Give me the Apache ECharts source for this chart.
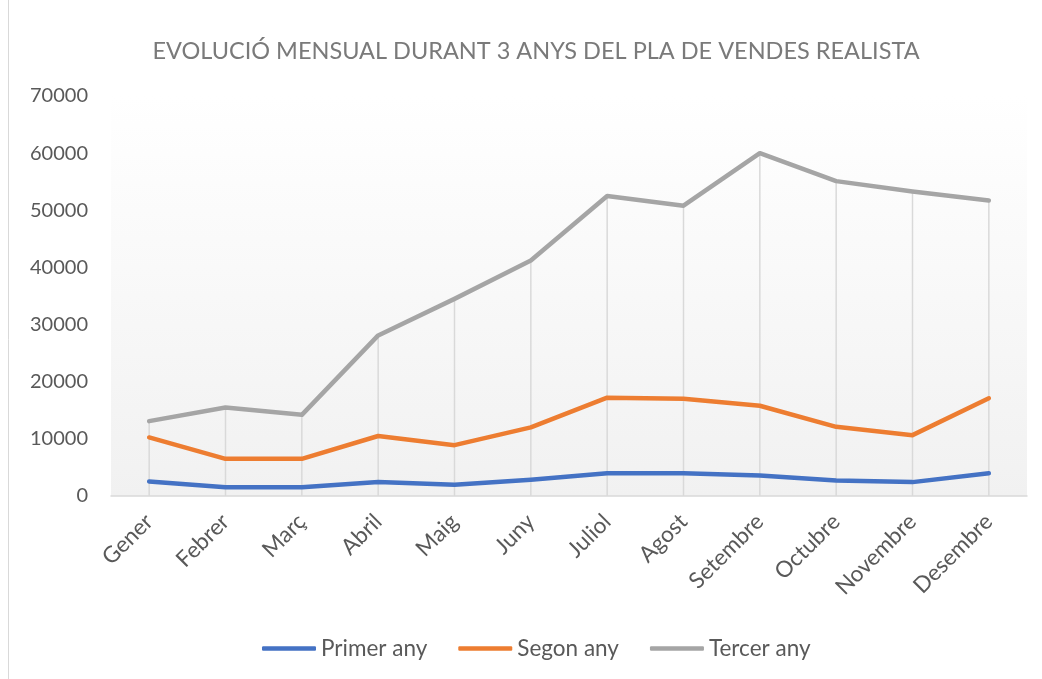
<!DOCTYPE html>
<html>
<head>
<meta charset="utf-8">
<title>Pla de vendes realista</title>
<script src="https://cdn.jsdelivr.net/npm/echarts@6/dist/echarts.min.js"></script>
<style>
  html, body { margin: 0; padding: 0; background: #ffffff; }
  #chart { width: 1042px; height: 679px; }
</style>
</head>
<body>
<div id="chart"></div>
<script>
// Months of the year (Catalan)
const months = ['Gener', 'Febrer', 'Març', 'Abril', 'Maig', 'Juny', 'Juliol', 'Agost', 'Setembre', 'Octubre', 'Novembre', 'Desembre'];

// Monthly sales for each year of the plan
const primerAny = [2550, 1550, 1550, 2430, 1970, 2850, 4000, 4000, 3600, 2730, 2430, 4000];
const segonAny  = [10250, 6500, 6500, 10500, 8900, 12000, 17200, 17000, 15800, 12100, 10650, 17100];
const tercerAny = [13100, 15500, 14200, 28100, 34500, 41200, 52500, 50800, 60000, 55100, 53300, 51700];

const seriesNames = ['Primer any', 'Segon any', 'Tercer any'];
const seriesColors = ['#4472C4', '#ED7D31', '#A5A5A5'];

// Value axis ticks
const yMin = 0;
const yMax = 70000;
const yStep = 10000;

const FONT = 'Lato, "Open Sans", sans-serif';
const TEXT = '#595959';

// Highest value at each month: drop lines run from here down to the axis
const dropTops = months.map((m, i) => [i, Math.max(primerAny[i], segonAny[i], tercerAny[i])]);

function lineSeries(name, data, color) {
  return {
    name: name,
    type: 'line',
    data: data,
    symbol: 'none',
    z: 3,
    lineStyle: { color: color, width: 4.5, cap: 'round', join: 'round' },
    itemStyle: { color: color },
    emphasis: { disabled: true }
  };
}

const chart = echarts.init(document.getElementById('chart'), null, { renderer: 'canvas' });

chart.setOption({
  animation: false,
  backgroundColor: '#ffffff',
  textStyle: { fontFamily: FONT },
  title: {
    text: 'EVOLUCIÓ MENSUAL DURANT 3 ANYS DEL PLA DE VENDES REALISTA',
    left: 531,
    textAlign: 'center',
    top: 34,
    textStyle: { fontFamily: FONT, fontSize: 23.5, fontWeight: 'normal', color: '#7a7a7a' }
  },
  legend: {
    data: seriesNames,
    bottom: 14,
    left: 257,
    icon: 'roundRect',
    itemWidth: 54,
    itemHeight: 4.5,
    itemGap: 31,
    textStyle: { fontFamily: FONT, fontSize: 22.5, color: TEXT }
  },
  grid: {
    left: 111,
    right: 15,
    top: 96,
    bottom: 183,
    show: true,
    borderWidth: 0,
    backgroundColor: new echarts.graphic.LinearGradient(0, 0, 0, 1, [
      { offset: 0, color: '#ffffff' },
      { offset: 1, color: '#f1f1f1' }
    ])
  },
  xAxis: {
    type: 'category',
    data: months,
    boundaryGap: true,
    axisLine: { show: true, lineStyle: { color: '#d9d9d9', width: 1.5 } },
    axisTick: { show: false },
    splitLine: { show: false },
    axisLabel: {
      rotate: 45,
      interval: 0,
      margin: 22,
      fontFamily: FONT,
      fontSize: 22.5,
      color: TEXT
    }
  },
  yAxis: {
    type: 'value',
    min: yMin,
    max: yMax,
    interval: yStep,
    axisLine: { show: false },
    axisTick: { show: false },
    splitLine: { show: false },
    axisLabel: {
      margin: 23,
      fontFamily: FONT,
      fontSize: 20,
      color: TEXT,
      formatter: function (v) { return String(v); }
    }
  },
  graphic: [
    {
      type: 'line',
      shape: { x1: 8.5, y1: 0, x2: 8.5, y2: 679 },
      style: { stroke: '#d9d9d9', lineWidth: 1 },
      silent: true
    }
  ],
  series: [
    {
      name: 'drop',
      type: 'custom',
      data: dropTops,
      silent: true,
      z: 1,
      renderItem: function (params, api) {
        const top = api.coord([api.value(0), api.value(1)]);
        const bottom = api.coord([api.value(0), 0]);
        return {
          type: 'line',
          shape: { x1: top[0], y1: top[1], x2: bottom[0], y2: bottom[1] },
          style: { stroke: '#d9d9d9', lineWidth: 1.5 }
        };
      }
    },
    lineSeries(seriesNames[0], primerAny, seriesColors[0]),
    lineSeries(seriesNames[1], segonAny, seriesColors[1]),
    lineSeries(seriesNames[2], tercerAny, seriesColors[2])
  ]
});
</script>
</body>
</html>
